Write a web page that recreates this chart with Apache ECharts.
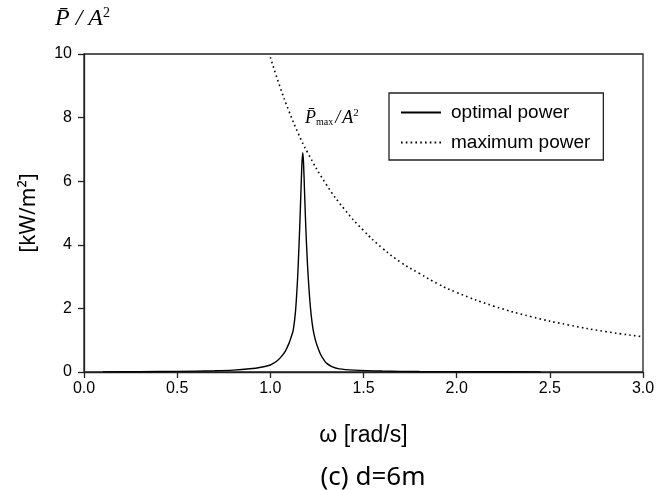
<!DOCTYPE html>
<html>
<head>
<meta charset="utf-8">
<script src="https://cdn.jsdelivr.net/npm/echarts@6/dist/echarts.min.js"></script>
<style>html,body{margin:0;padding:0;background:#fff}#c{width:672px;height:490px}</style>
</head>
<body>
<div id="c"></div>
<script>
// optimal power [omega, P/A^2]
const optimalOmega = [0.10,0.30,0.50,0.70,0.80,0.89,0.95,1.00,1.016,1.04,1.06,1.08,1.10,1.112,1.123,1.135,1.145,1.15,1.158,1.165,1.170,1.174,1.178,1.184,1.19,1.199,1.21,1.22,1.23,1.24,1.25,1.27,1.29,1.303,1.33,1.37,1.45,1.6,1.8,2.1,2.45];
const optimalPower = [0.005,0.01,0.02,0.04,0.06,0.10,0.15,0.22,0.27,0.37,0.49,0.65,0.90,1.10,1.32,1.9,2.8,3.42,4.6,5.8,6.6,6.9,6.6,5.6,4.6,3.42,2.4,1.75,1.32,1.05,0.85,0.55,0.36,0.27,0.17,0.10,0.06,0.03,0.015,0.008,0.005];
// maximum power
const maxOmega = [1.0,1.05,1.1,1.15,1.2,1.3,1.4,1.5,1.6,1.7,1.8,1.9,2.0,2.2,2.4,2.6,2.8,3.0];
const maxPower = [9.9,9.0,8.2,7.5,6.9,5.9,5.1,4.45,3.9,3.45,3.1,2.77,2.5,2.07,1.74,1.48,1.27,1.11];
const xTicks = {min:0, max:3, interval:0.5};
const yTicks = {min:0, max:10, interval:2};

const chart = echarts.init(document.getElementById('c'));
const zip = (a,b)=>a.map((v,i)=>[v,b[i]]);
chart.setOption({
  animation:false,
  grid:{left:84, right:29, top:54, bottom:118, show:true, borderColor:'#222', borderWidth:1.3, backgroundColor:'transparent'},
  xAxis:{type:'value', min:xTicks.min, max:xTicks.max, interval:xTicks.interval,
    name:'ω [rad/s]', nameLocation:'middle', nameGap:52,
    nameTextStyle:{fontFamily:'Liberation Sans', fontSize:23, color:'#000'},
    axisLine:{show:true, onZero:false, lineStyle:{color:'#222', width:1.3}},
    axisTick:{show:true, length:6, inside:false, lineStyle:{color:'#222', width:1.3}},
    axisLabel:{margin:9, fontFamily:'Liberation Sans', fontSize:16, color:'#000', formatter:v=>v.toFixed(1)},
    splitLine:{show:false}},
  yAxis:{type:'value', min:yTicks.min, max:yTicks.max, interval:yTicks.interval,
    name:'[kW/m²]', nameLocation:'middle', nameGap:44, nameRotate:90,
    nameTextStyle:{fontFamily:'Noto Sans', fontSize:21, color:'#000'},
    axisLine:{show:true, lineStyle:{color:'#222', width:1.3}},
    axisTick:{show:true, length:6, inside:false, lineStyle:{color:'#222', width:1.3}},
    axisLabel:{margin:12, fontFamily:'Liberation Sans', fontSize:16, color:'#000'},
    splitLine:{show:false}},
  legend:{left:389, top:93, orient:'vertical', itemWidth:40, itemHeight:14, itemGap:11,
    padding:[10,13,8,11], borderColor:'#222', borderWidth:1.3, backgroundColor:'#fff',
    itemStyle:{opacity:0, borderWidth:0},
    textStyle:{fontFamily:'Liberation Sans', fontSize:19, color:'#000', padding:[0,0,0,5]},
    data:['optimal power','maximum power']},
  series:[
    {name:'optimal power', type:'line', symbol:'none', smooth:0.3, data:zip(optimalOmega, optimalPower),
      lineStyle:{color:'#000', width:1.4}, itemStyle:{color:'#000'}},
    {name:'maximum power', type:'line', symbol:'none', smooth:true, data:zip(maxOmega, maxPower),
      lineStyle:{color:'#000', width:1.6, type:[1.6,3.2]}, itemStyle:{color:'#000'}}
  ],
  graphic:[
    {type:'text', left:55, top:6, style:{text:'{i|P\u0304}{n|/}{i|A}{s|2}', rich:{
      i:{fontFamily:'Liberation Serif', fontStyle:'italic', fontSize:24, fill:'#000'},
      n:{fontFamily:'Liberation Serif', fontStyle:'italic', fontSize:24, fill:'#000', padding:[0,6,0,6]},
      s:{fontFamily:'Liberation Serif', fontSize:14, fill:'#000', verticalAlign:'top', padding:[0,0,12,0]}}}},
    {type:'text', left:305, top:108, style:{text:'{i|P\u0304}{m|max}{n|/}{i|A}{s|2}', rich:{
      i:{fontFamily:'Liberation Serif', fontStyle:'italic', fontSize:18, fill:'#000'},
      n:{fontFamily:'Liberation Serif', fontStyle:'italic', fontSize:18, fill:'#000', padding:[0,2,0,2]},
      m:{fontFamily:'Liberation Serif', fontSize:10, fill:'#000', padding:[8,0,0,0]},
      s:{fontFamily:'Liberation Serif', fontSize:11, fill:'#000', padding:[0,0,9,0]}}}},
    {type:'text', x:373, y:478, style:{text:'(c) d=6m', fontFamily:'Noto Sans', fontSize:26, fill:'#000', align:'center', verticalAlign:'middle'}}
  ]
});
</script>
</body>
</html>
